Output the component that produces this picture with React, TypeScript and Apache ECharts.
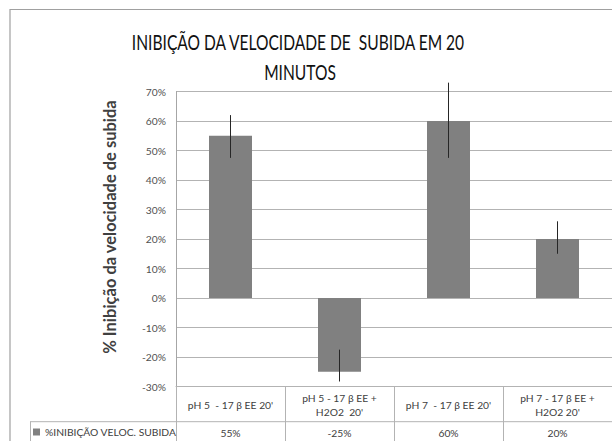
import React, { useEffect, useRef } from "react";
import * as echarts from "echarts";

const categories = [
  "pH 5  - 17 β EE 20'",
  "pH 5 - 17 β EE +\nH2O2  20'",
  "pH 7  - 17 β EE 20'",
  "pH 7 - 17 β EE +\nH2O2 20'",
];
const values = [55, -25, 60, 20];
const errHigh = [62, -17.5, 73, 26];
const errLow = [47.5, -28.3, 47.5, 15];
const seriesName = "%INIBIÇÃO VELOC. SUBIDA";
const titleLines = ["INIBIÇÃO DA VELOCIDADE DE  SUBIDA EM 20", "MINUTOS"];
const yAxisTitle = "% Inibição da velocidade de subida";
const yMin = -30;
const yMax = 70;
const yStep = 10;

const FONT = "Lato, 'Open Sans', sans-serif";
const GRID = "#b3b3b3";
const SMALL = 10.3;

export default function App() {
  const ref = useRef<HTMLDivElement>(null);
  useEffect(() => {
    if (!ref.current) return;
    const chart = echarts.init(ref.current, undefined, { renderer: "svg" });
    chart.setOption({
      animation: false,
      backgroundColor: "#ffffff",
      grid: { left: 176, top: 91.5, width: 437, height: 295, containLabel: false },
      legend: {
        data: [seriesName],
        left: 33,
        top: 427,
        itemWidth: 7,
        itemHeight: 7,
        icon: "rect",
        textStyle: { fontSize: SMALL, color: "#404040", fontFamily: FONT },
        itemGap: 2,
        padding: 0,
      },
      xAxis: [
        {
          type: "category",
          data: categories,
          position: "bottom",
          offset: 0,
          axisLine: { onZero: false, lineStyle: { color: GRID, width: 1 } },
          axisTick: { show: true, length: 56, interval: 0, alignWithLabel: false, lineStyle: { color: GRID } },
          axisLabel: {
            interval: 0,
            margin: 18.5,
            verticalAlign: "middle",
            lineHeight: 13.5,
            fontSize: SMALL,
            color: "#404040",
            fontFamily: FONT,
          },
          splitLine: { show: false },
        },
        {
          type: "category",
          data: values.map((v) => v + "%"),
          position: "bottom",
          offset: 0,
          axisLine: { show: false },
          axisTick: { show: false },
          axisLabel: {
            interval: 0,
            margin: 46.5,
            verticalAlign: "middle",
            fontSize: SMALL,
            color: "#404040",
            fontFamily: FONT,
          },
          splitLine: { show: false },
        },
      ],
      yAxis: {
        type: "value",
        min: yMin,
        max: yMax,
        interval: yStep,
        axisLine: { show: true, lineStyle: { color: "#a6a6a6" } },
        axisTick: { show: false },
        axisLabel: {
          formatter: (v: number) => v + "%",
          margin: 10,
          fontSize: SMALL,
          color: "#505050",
          fontFamily: FONT,
        },
        splitLine: { show: true, lineStyle: { color: GRID, width: 1 } },
      },
      series: [
        {
          name: seriesName,
          type: "bar",
          xAxisIndex: 0,
          data: values,
          barWidth: 43,
          itemStyle: { color: "#808080" },
        },
        {
          name: "err",
          type: "custom",
          xAxisIndex: 0,
          clip: false,
          z: 10,
          data: categories.map((_, i) => [i, errLow[i], errHigh[i]]),
          encode: { x: 0, y: [1, 2] },
          renderItem: (_params: any, api: any) => {
            const p1 = api.coord([api.value(0), api.value(1)]);
            const p2 = api.coord([api.value(0), api.value(2)]);
            return {
              type: "line",
              shape: { x1: p1[0], y1: p1[1], x2: p2[0], y2: p2[1] },
              style: { stroke: "#262626", lineWidth: 1 },
            };
          },
        },
      ],
      graphic: [
        {
          type: "polyline",
          shape: { points: [[10, 441], [10, 9.5], [612, 9.5]] },
          style: { stroke: "#a0a0a0", lineWidth: 1.2, fill: "none" },
          silent: true,
        },
        {
          type: "line",
          shape: { x1: 30, y1: 421.7, x2: 612, y2: 421.7 },
          style: { stroke: GRID, lineWidth: 1 },
          silent: true,
        },
        {
          type: "line",
          shape: { x1: 30.5, y1: 421.7, x2: 30.5, y2: 441 },
          style: { stroke: GRID, lineWidth: 1 },
          silent: true,
        },
        {
          type: "text",
          x: 298,
          y: 42,
          scaleX: 0.76,
          style: {
            text: titleLines[0],
            align: "center",
            verticalAlign: "middle",
            fontSize: 20.5,
            fontFamily: FONT,
            fill: "#111111",
          },
        },
        {
          type: "text",
          x: 300,
          y: 72.5,
          scaleX: 0.76,
          style: {
            text: titleLines[1],
            align: "center",
            verticalAlign: "middle",
            fontSize: 20.5,
            fontFamily: FONT,
            fill: "#111111",
          },
        },
        {
          type: "text",
          x: 110,
          y: 227,
          rotation: Math.PI / 2,
          style: {
            text: yAxisTitle,
            align: "center",
            verticalAlign: "middle",
            fontSize: 16.5,
            fontWeight: "bold",
            fontFamily: FONT,
            fill: "#404040",
          },
        },
      ],
    });
    return () => chart.dispose();
  }, []);
  return (
    <div
      ref={ref}
      style={{ position: "fixed", left: 0, top: 0, width: 612, height: 441 }}
    />
  );
}
